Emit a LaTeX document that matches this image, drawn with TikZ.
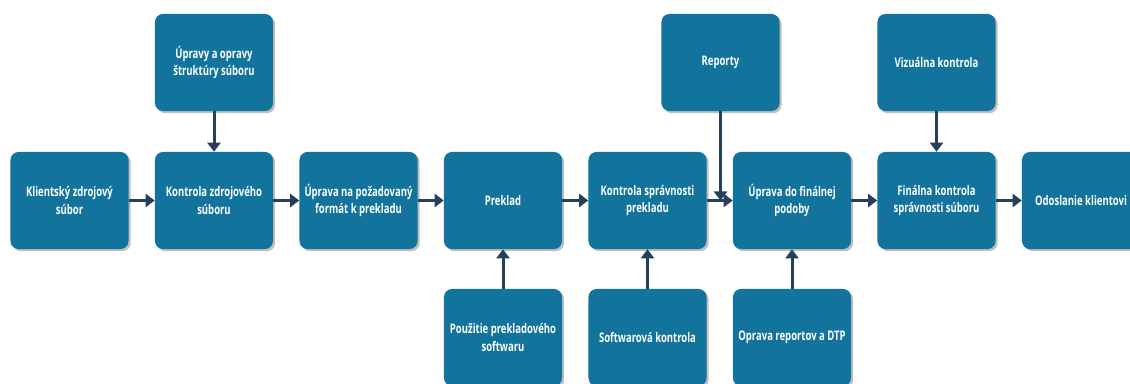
\documentclass[tikz,border=0pt]{standalone}
\usepackage{fontspec}
\newfontfamily\boxfont{Open Sans}[FakeStretch=0.72]
\usepackage{tikz}
\usetikzlibrary{arrows.meta,shadows}
\definecolor{boxblue}{rgb}{0.07,0.45,0.61}
\definecolor{arrownavy}{rgb}{0.15,0.25,0.35}
\tikzset{
  krok/.style={rounded corners=0.2cm, fill=boxblue, minimum width=2.95cm, minimum height=2.425cm,
    align=center, text=white, font=\boxfont\bfseries\fontsize{9.4}{12.2}\selectfont,
    drop shadow={shadow xshift=1.5pt, shadow yshift=-1.5pt, opacity=0.25, fill=black}},
  tok/.style={draw=arrownavy, line width=0.075cm, -{Triangle[length=0.225cm, width=0.325cm]}}
}

\begin{document}
\begin{tikzpicture}[x=0.025cm,y=0.025cm]
\useasboundingbox (0,0) rectangle (1130,383);
% stredny rad
\node[krok] (klient) at (69.5,182.5) {Klientský zdrojový\\súbor};
\node[krok] (kontrolaZdroj) at (214,182.5) {Kontrola zdrojového\\súboru};
\node[krok] (format) at (358.5,182.5) {Úprava na požadovaný\\formát k prekladu};
\node[krok] (preklad) at (503,182.5) {Preklad};
\node[krok] (kontrolaPrekl) at (647.5,182.5) {Kontrola správnosti\\prekladu};
\node[krok] (finalPodoba) at (792,182.5) {Úprava do finálnej\\podoby};
\node[krok] (finalKontrola) at (936.5,182.5) {Finálna kontrola\\správnosti súboru};
\node[krok] (odoslanie) at (1081,182.5) {Odoslanie klientovi};
% horny rad
\node[krok] (struktura) at (214,320.5) {Úpravy a opravy\\štruktúry súboru};
\node[krok] (reporty) at (720.5,320.5) {Reporty};
\node[krok] (vizualna) at (936.5,320.5) {Vizuálna kontrola};
% dolny rad
\node[krok] (software) at (503,45.5) {Použitie prekladového\\softwaru};
\node[krok] (swKontrola) at (647.5,45.5) {Softwarová kontrola};
\node[krok] (dtp) at (792,45.5) {Oprava reportov a DTP};
% sipky
\draw[tok] (klient) -- (kontrolaZdroj);
\draw[tok] (kontrolaZdroj) -- (format);
\draw[tok] (format) -- (preklad);
\draw[tok] (preklad) -- (kontrolaPrekl);
\draw[tok] (kontrolaPrekl) -- (finalPodoba);
\draw[tok] (finalPodoba) -- (finalKontrola);
\draw[tok] (finalKontrola) -- (odoslanie);
\draw[tok] (struktura) -- (kontrolaZdroj);
\draw[tok] (vizualna) -- (finalKontrola);
\draw[tok] (software) -- (preklad);
\draw[tok] (swKontrola) -- (kontrolaPrekl);
\draw[tok] (dtp) -- (finalPodoba);
\coordinate (spoj) at (reporty.south |- kontrolaPrekl.east);
\draw[tok] (reporty) -- (spoj);
\end{tikzpicture}
\end{document}
